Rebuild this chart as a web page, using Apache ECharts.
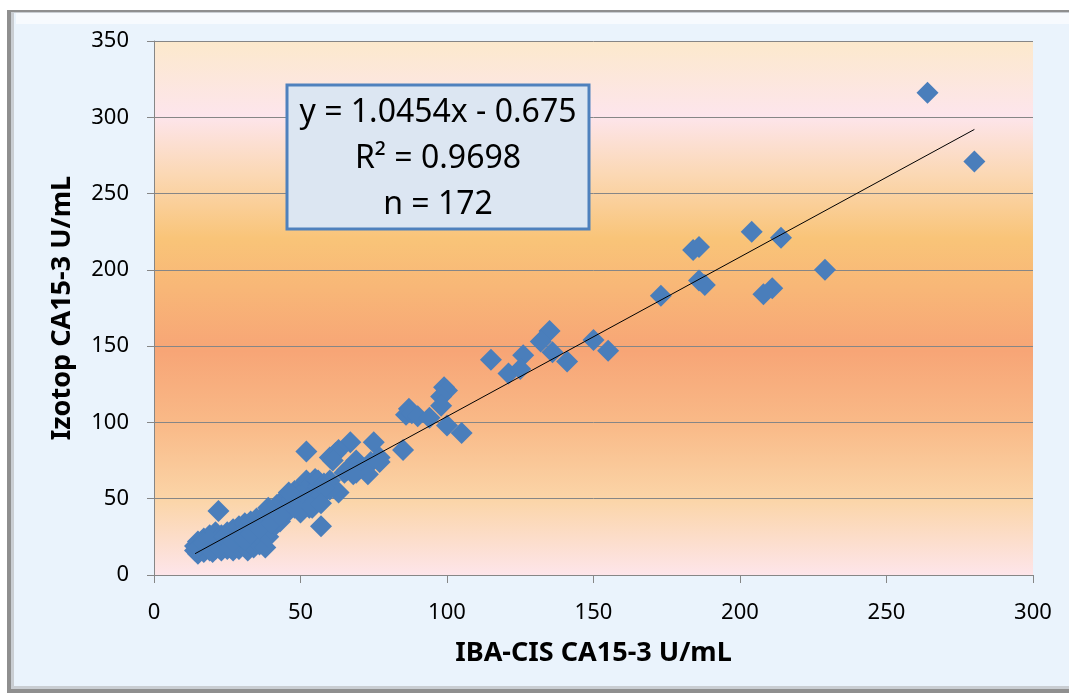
<!DOCTYPE html>
<html>
<head>
<meta charset="utf-8">
<script src="https://cdn.jsdelivr.net/npm/echarts@6/dist/echarts.min.js"></script>
<style>
  html, body { margin: 0; padding: 0; background: #ffffff; }
  #chart { width: 1069px; height: 700px; }
</style>
</head>
<body>
<div id="chart"></div>
<script>
// ---- Data ----
var xAxisTitle = "IBA-CIS CA15-3 U/mL";
var yAxisTitle = "Izotop CA15-3 U/mL";
var statsLines = ["y = 1.0454x - 0.675", "R\u00B2 = 0.9698", "n = 172"];
var trendSlope = 1.0454;
var trendIntercept = -0.675;
var xTicks = [0, 50, 100, 150, 200, 250, 300];
var yTicks = [0, 50, 100, 150, 200, 250, 300, 350];

var pointsHigh = [
  [264,316],[280,271],[229,200],[214,221],[204,225],[184,213],[186,215],[186,193],
  [188,190],[208,184],[211,188],[173,183],[150,154],[155,147],[135,160],[132,153],
  [136,146],[141,140],[126,144],[121,132],[125,135],[115,141],[99,123],[100,121],
  [98,117],[98,111],[87,109],[86,105],[88,106],[90,104],[94,103],[100,98],[105,93],[85,82]
];
var pointsMid = [
  [52,81],[67,87],[75,87],[63,82],[62,80],[60,77],[61,75],[69,75],[77,77],[74,74],
  [77,74],[65,67],[66,69],[69,67],[72,70],[73,66],[68,66],[63,54],[60,56],[58,57],
  [57,32],[22,42],[50,41],[54,44],[57,47],[46,54]
];
var pointsLow = [
  [14,16],[14,19],[15,14],[15,22],[16,17],[16,20],[17,15],[17,24],[18,18],[18,21],
  [19,16],[19,26],[20,19],[20,22],[21,17],[21,28],[22,20],[22,24],[23,16],[23,26],
  [24,19],[24,22],[25,28],[25,17],
  [26,21],[26,25],[27,30],[27,16],[28,19],[28,23],[28,27],[29,32],[29,17],[30,21],
  [30,25],[30,29],[31,34],[31,19],[32,23],[32,27],[32,16],[33,31],[33,35],[33,20],
  [34,25],[34,18],[35,29],[35,33],[35,22],[35,37],
  [36,20],[36,26],[37,31],[37,35],[37,23],[38,40],[38,28],[38,18],[39,33],[39,44],
  [39,25],[40,37],[40,30],[41,41],[41,34],[42,46],[42,38],[43,43],[43,35],[44,48],
  [44,40],[45,45],[45,51],
  [46,42],[46,53],[47,47],[47,50],[48,44],[48,55],[49,49],[50,52],[50,46],[51,59],
  [51,55],[52,50],[52,62],[53,44],[53,57],[54,60],[54,53],[55,48],[55,63],[56,58],
  [56,62],[57,52],[58,60],[59,56],[60,62],
  [15,18],[17,21],[19,23],[20,15],[22,18],[24,25],[26,18],[27,22],[29,26],[31,23],
  [33,27],[36,30],[40,34],[43,39]
];

// ---- Build ----
var allPoints = pointsLow.concat(pointsMid, pointsHigh);
var xs = allPoints.map(function (p) { return p[0]; });
var xMinData = Math.min.apply(null, xs);
var xMaxData = Math.max.apply(null, xs);
var trendData = [xMinData, xMaxData].map(function (x) {
  return [x, trendSlope * x + trendIntercept];
});

var FONT = "'Noto Sans', 'Open Sans', sans-serif";
var chart = echarts.init(document.getElementById('chart'), null, { renderer: 'canvas' });

var boxX = 287, boxY = 85, boxW = 302, boxH = 144;
var statsGraphics = statsLines.map(function (t, i) {
  return {
    type: 'text', z: 101,
    style: {
      text: t, x: boxX + boxW / 2, y: boxY + 28 + i * 46,
      textAlign: 'center', textVerticalAlign: 'middle',
      fontSize: 32, fontFamily: FONT, fill: '#000000'
    }
  };
});

var option = {
  animation: false,
  backgroundColor: 'transparent',
  graphic: [
    { type: 'rect', z: -10, silent: true, shape: { x: 7, y: 10, width: 1075, height: 683 },
      style: { fill: '#8f8f8f' } },
    { type: 'rect', z: -9, silent: true, shape: { x: 11, y: 12, width: 1070, height: 677 },
      style: { fill: '#c9cdd2' } },
    { type: 'rect', z: -8, silent: true, shape: { x: 14, y: 13, width: 1066, height: 673 },
      style: { fill: '#EAF3FC' } },
    { type: 'rect', z: -7, silent: true, shape: { x: 16, y: 13, width: 1064, height: 11 },
      style: { fill: '#F7FAFE' } },
    { type: 'rect', z: 100, shape: { x: boxX, y: boxY, width: boxW, height: boxH },
      style: { fill: '#DCE6F2', stroke: '#4F81BD', lineWidth: 3 } }
  ].concat(statsGraphics),
  grid: {
    left: 154, right: 36, top: 41, bottom: 125,
    show: true, borderWidth: 0,
    backgroundColor: {
      type: 'linear', x: 0, y: 0, x2: 0, y2: 1,
      colorStops: [
        { offset: 0, color: '#FCE9CC' },
        { offset: 0.14, color: '#FDE5EC' },
        { offset: 0.25, color: '#FBD8B4' },
        { offset: 0.37, color: '#F9C478' },
        { offset: 0.46, color: '#F8B777' },
        { offset: 0.58, color: '#F7A576' },
        { offset: 0.72, color: '#F9BA88' },
        { offset: 0.86, color: '#FBD5A8' },
        { offset: 1, color: '#FDE5EA' }
      ]
    }
  },
  xAxis: {
    type: 'value', min: xTicks[0], max: xTicks[xTicks.length - 1],
    interval: xTicks[1] - xTicks[0],
    name: xAxisTitle, nameLocation: 'middle', nameGap: 65,
    nameTextStyle: { fontSize: 27, fontWeight: 'bold', fontFamily: FONT, color: '#000' },
    axisLine: { show: true, lineStyle: { color: '#868686', width: 1 } },
    axisTick: { show: true, length: 8, lineStyle: { color: '#868686' } },
    axisLabel: { fontSize: 22, fontFamily: FONT, color: '#000', margin: 27 },
    splitLine: { show: false }
  },
  yAxis: {
    type: 'value', min: yTicks[0], max: yTicks[yTicks.length - 1],
    interval: yTicks[1] - yTicks[0],
    name: yAxisTitle, nameLocation: 'middle', nameGap: 78,
    nameTextStyle: { fontSize: 27, fontWeight: 'bold', fontFamily: FONT, color: '#000' },
    axisLine: { show: true, lineStyle: { color: '#868686', width: 1 } },
    axisTick: { show: true, length: 7, lineStyle: { color: '#868686' } },
    axisLabel: { fontSize: 22, fontFamily: FONT, color: '#000', margin: 25 },
    splitLine: { show: true, lineStyle: { color: '#868686', width: 1 } }
  },
  series: [
    {
      type: 'scatter', data: allPoints, symbol: 'diamond', symbolSize: 22,
      itemStyle: { color: '#4A7EBB', opacity: 1 }, z: 2
    },
    {
      type: 'line', data: trendData, symbol: 'none', z: 3,
      lineStyle: { color: '#000000', width: 1 }
    }
  ]
};
chart.setOption(option);
</script>
</body>
</html>
